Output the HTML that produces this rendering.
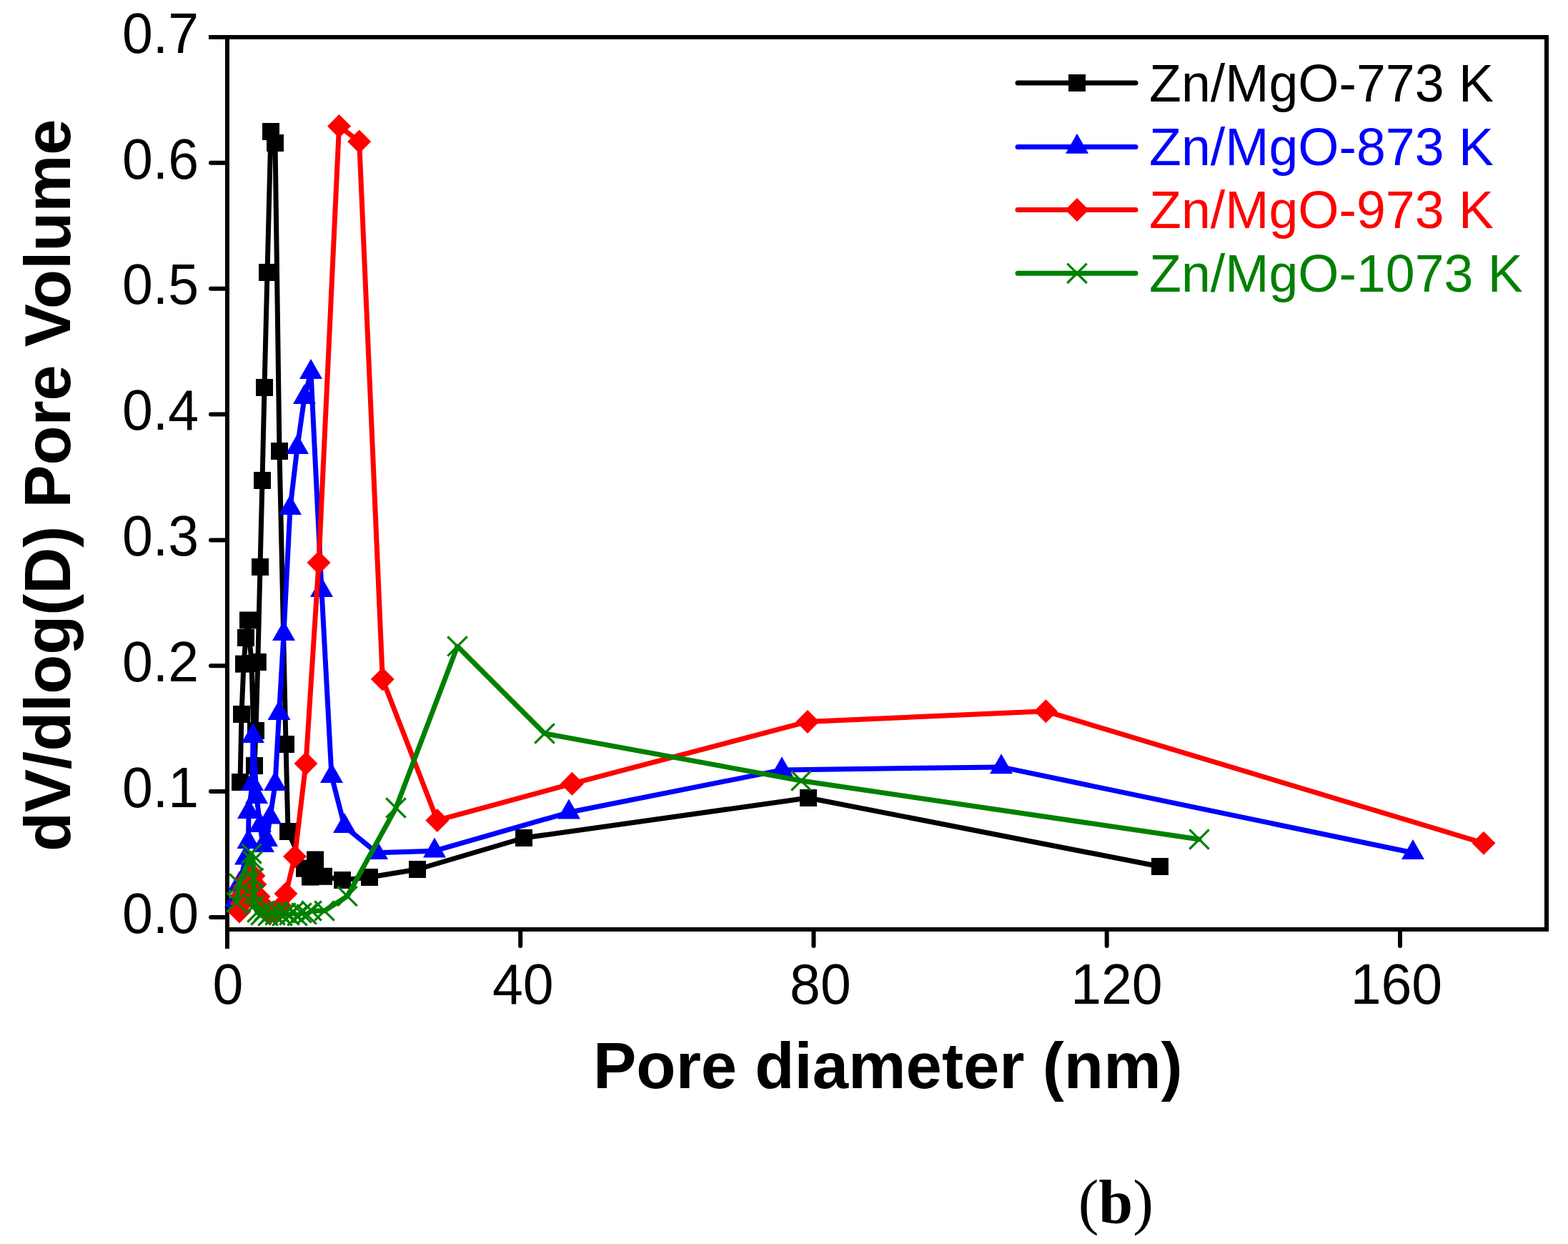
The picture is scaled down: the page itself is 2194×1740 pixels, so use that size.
<!DOCTYPE html>
<html><head><meta charset="utf-8"><title>Pore size distribution</title>
<style>html,body{margin:0;padding:0;background:#fff;}svg{display:block;}</style>
</head><body>
<svg width="2194" height="1740" viewBox="0 0 2194 1740">
<g stroke="#000" stroke-width="6" fill="none" stroke-linecap="square">
<line x1="295" y1="52" x2="2164" y2="52"/>
<line x1="2164" y1="52" x2="2164" y2="1300"/>
<line x1="318" y1="1300" x2="2164" y2="1300"/>
<line x1="318" y1="52" x2="318" y2="1324"/>
</g>
<g stroke="#000" stroke-width="6" stroke-linecap="round">
<line x1="295" y1="1283" x2="318" y2="1283"/>
<line x1="295" y1="1107.1" x2="318" y2="1107.1"/>
<line x1="295" y1="931.3" x2="318" y2="931.3"/>
<line x1="295" y1="755.4" x2="318" y2="755.4"/>
<line x1="295" y1="579.6" x2="318" y2="579.6"/>
<line x1="295" y1="403.7" x2="318" y2="403.7"/>
<line x1="295" y1="227.8" x2="318" y2="227.8"/>
<line x1="728.2" y1="1300" x2="728.2" y2="1323"/>
<line x1="1138.5" y1="1300" x2="1138.5" y2="1323"/>
<line x1="1548.7" y1="1300" x2="1548.7" y2="1323"/>
<line x1="1959" y1="1300" x2="1959" y2="1323"/>
</g>
<g font-family="'Liberation Sans', Arial, sans-serif" font-size="77" fill="#000">
<text transform="translate(278,1304.7) scale(1,1.038)" text-anchor="end">0.0</text>
<text transform="translate(278,1128.8) scale(1,1.038)" text-anchor="end">0.1</text>
<text transform="translate(278,953) scale(1,1.038)" text-anchor="end">0.2</text>
<text transform="translate(278,777.1) scale(1,1.038)" text-anchor="end">0.3</text>
<text transform="translate(278,601.3) scale(1,1.038)" text-anchor="end">0.4</text>
<text transform="translate(278,425.4) scale(1,1.038)" text-anchor="end">0.5</text>
<text transform="translate(278,249.5) scale(1,1.038)" text-anchor="end">0.6</text>
<text transform="translate(278,73.7) scale(1,1.038)" text-anchor="end">0.7</text>
<text transform="translate(319,1403.6) scale(1,1.038)" text-anchor="middle">0</text>
<text transform="translate(731.7,1403.6) scale(1,1.038)" text-anchor="middle">40</text>
<text transform="translate(1147.9,1403.6) scale(1,1.038)" text-anchor="middle">80</text>
<text transform="translate(1562.4,1403.6) scale(1,1.038)" text-anchor="middle">120</text>
<text transform="translate(1953.9,1403.6) scale(1,1.038)" text-anchor="middle">160</text>
</g>
<text x="830" y="1521.8" font-family="'Liberation Sans', Arial, sans-serif" font-weight="bold" font-size="90.5">Pore diameter (nm)</text>
<text transform="translate(98,1191) rotate(-90)" x="0" y="0" font-family="'Liberation Sans', Arial, sans-serif" font-weight="bold" font-size="90.1">dV/dlog(D) Pore Volume</text>
<text x="1508.7" y="1710" font-family="'Liberation Serif', 'Times New Roman', serif" font-weight="bold" font-size="86"><tspan font-weight="normal">(</tspan>b<tspan font-weight="normal">)</tspan></text>
<polyline points="336,1094 338,999 341,928.7 344,892 347,867.5 352,928 356,1071 358,1022 360.8,926 364,793 367,672 370,542 374,381 379,184 385,200 391,631 400,1041 403,1163 426,1214.7 434,1226.6 441,1202.5 453,1225.8 479,1231 517,1227 584,1216 733,1172 1131,1116 1623,1212" fill="none" stroke="#000" stroke-width="7" stroke-linejoin="round" stroke-linecap="round"/>
<rect x="324" y="1082" width="24" height="24" fill="#000"/>
<rect x="326" y="987" width="24" height="24" fill="#000"/>
<rect x="329" y="916.7" width="24" height="24" fill="#000"/>
<rect x="332" y="880" width="24" height="24" fill="#000"/>
<rect x="335" y="855.5" width="24" height="24" fill="#000"/>
<rect x="340" y="916" width="24" height="24" fill="#000"/>
<rect x="344" y="1059" width="24" height="24" fill="#000"/>
<rect x="346" y="1010" width="24" height="24" fill="#000"/>
<rect x="348.8" y="914" width="24" height="24" fill="#000"/>
<rect x="352" y="781" width="24" height="24" fill="#000"/>
<rect x="355" y="660" width="24" height="24" fill="#000"/>
<rect x="358" y="530" width="24" height="24" fill="#000"/>
<rect x="362" y="369" width="24" height="24" fill="#000"/>
<rect x="367" y="172" width="24" height="24" fill="#000"/>
<rect x="373" y="188" width="24" height="24" fill="#000"/>
<rect x="379" y="619" width="24" height="24" fill="#000"/>
<rect x="388" y="1029" width="24" height="24" fill="#000"/>
<rect x="391" y="1151" width="24" height="24" fill="#000"/>
<rect x="414" y="1202.7" width="24" height="24" fill="#000"/>
<rect x="422" y="1214.6" width="24" height="24" fill="#000"/>
<rect x="429" y="1190.5" width="24" height="24" fill="#000"/>
<rect x="441" y="1213.8" width="24" height="24" fill="#000"/>
<rect x="467" y="1219" width="24" height="24" fill="#000"/>
<rect x="505" y="1215" width="24" height="24" fill="#000"/>
<rect x="572" y="1204" width="24" height="24" fill="#000"/>
<rect x="721" y="1160" width="24" height="24" fill="#000"/>
<rect x="1119" y="1104" width="24" height="24" fill="#000"/>
<rect x="1611" y="1200" width="24" height="24" fill="#000"/>
<polyline points="330,1259.7 335,1236.7 344,1200.2 347.5,1177.7 348,1135.7 353,1096.7 354,1029.7 359,1114.7 364,1154.7 368,1182.7 373,1174.7 378,1143.3 385,1096.7 390.5,997.7 397,886.7 406,710.7 416,625.7 426,555.7 435,520.7 450,825.7 464,1085.7 482,1155.7 527,1192.7 608,1190.2 796,1136.3 1094,1076.9 1401,1072.9 1977,1192.7" fill="none" stroke="#00f" stroke-width="7" stroke-linejoin="round" stroke-linecap="round"/>
<polygon points="330,1241 346,1269 314,1269" fill="#00f"/>
<polygon points="335,1218 351,1246 319,1246" fill="#00f"/>
<polygon points="344,1181.5 360,1209.5 328,1209.5" fill="#00f"/>
<polygon points="347.5,1159 363.5,1187 331.5,1187" fill="#00f"/>
<polygon points="348,1117 364,1145 332,1145" fill="#00f"/>
<polygon points="353,1078 369,1106 337,1106" fill="#00f"/>
<polygon points="354,1011 370,1039 338,1039" fill="#00f"/>
<polygon points="359,1096 375,1124 343,1124" fill="#00f"/>
<polygon points="364,1136 380,1164 348,1164" fill="#00f"/>
<polygon points="368,1164 384,1192 352,1192" fill="#00f"/>
<polygon points="373,1156 389,1184 357,1184" fill="#00f"/>
<polygon points="378,1124.6 394,1152.6 362,1152.6" fill="#00f"/>
<polygon points="385,1078 401,1106 369,1106" fill="#00f"/>
<polygon points="390.5,979 406.5,1007 374.5,1007" fill="#00f"/>
<polygon points="397,868 413,896 381,896" fill="#00f"/>
<polygon points="406,692 422,720 390,720" fill="#00f"/>
<polygon points="416,607 432,635 400,635" fill="#00f"/>
<polygon points="426,537 442,565 410,565" fill="#00f"/>
<polygon points="435,502 451,530 419,530" fill="#00f"/>
<polygon points="450,807 466,835 434,835" fill="#00f"/>
<polygon points="464,1067 480,1095 448,1095" fill="#00f"/>
<polygon points="482,1137 498,1165 466,1165" fill="#00f"/>
<polygon points="527,1174 543,1202 511,1202" fill="#00f"/>
<polygon points="608,1171.5 624,1199.5 592,1199.5" fill="#00f"/>
<polygon points="796,1117.6 812,1145.6 780,1145.6" fill="#00f"/>
<polygon points="1094,1058.2 1110,1086.2 1078,1086.2" fill="#00f"/>
<polygon points="1401,1054.2 1417,1082.2 1385,1082.2" fill="#00f"/>
<polygon points="1977,1174 1993,1202 1961,1202" fill="#00f"/>
<polyline points="335,1275 338,1264 339,1252 342,1240 346,1230 351,1224 355,1225 357,1237 362,1254 370,1268 378,1277 386,1277 393,1268 400,1250 412.5,1198 428,1068 446,787 474.5,176.5 502.7,198 535.3,950 611.8,1147.4 800.5,1096.2 1130,1009.4 1463.4,994.8 2076,1179.3" fill="none" stroke="#f00" stroke-width="7" stroke-linejoin="round" stroke-linecap="round"/>
<polygon points="335,1258.5 351.5,1275 335,1291.5 318.5,1275" fill="#f00"/>
<polygon points="338,1247.5 354.5,1264 338,1280.5 321.5,1264" fill="#f00"/>
<polygon points="339,1235.5 355.5,1252 339,1268.5 322.5,1252" fill="#f00"/>
<polygon points="342,1223.5 358.5,1240 342,1256.5 325.5,1240" fill="#f00"/>
<polygon points="346,1213.5 362.5,1230 346,1246.5 329.5,1230" fill="#f00"/>
<polygon points="351,1207.5 367.5,1224 351,1240.5 334.5,1224" fill="#f00"/>
<polygon points="355,1208.5 371.5,1225 355,1241.5 338.5,1225" fill="#f00"/>
<polygon points="357,1220.5 373.5,1237 357,1253.5 340.5,1237" fill="#f00"/>
<polygon points="362,1237.5 378.5,1254 362,1270.5 345.5,1254" fill="#f00"/>
<polygon points="370,1251.5 386.5,1268 370,1284.5 353.5,1268" fill="#f00"/>
<polygon points="378,1260.5 394.5,1277 378,1293.5 361.5,1277" fill="#f00"/>
<polygon points="386,1260.5 402.5,1277 386,1293.5 369.5,1277" fill="#f00"/>
<polygon points="393,1251.5 409.5,1268 393,1284.5 376.5,1268" fill="#f00"/>
<polygon points="400,1233.5 416.5,1250 400,1266.5 383.5,1250" fill="#f00"/>
<polygon points="412.5,1181.5 429,1198 412.5,1214.5 396,1198" fill="#f00"/>
<polygon points="428,1051.5 444.5,1068 428,1084.5 411.5,1068" fill="#f00"/>
<polygon points="446,770.5 462.5,787 446,803.5 429.5,787" fill="#f00"/>
<polygon points="474.5,160 491,176.5 474.5,193 458,176.5" fill="#f00"/>
<polygon points="502.7,181.5 519.2,198 502.7,214.5 486.2,198" fill="#f00"/>
<polygon points="535.3,933.5 551.8,950 535.3,966.5 518.8,950" fill="#f00"/>
<polygon points="611.8,1130.9 628.3,1147.4 611.8,1163.9 595.3,1147.4" fill="#f00"/>
<polygon points="800.5,1079.7 817,1096.2 800.5,1112.7 784,1096.2" fill="#f00"/>
<polygon points="1130,992.9 1146.5,1009.4 1130,1025.9 1113.5,1009.4" fill="#f00"/>
<polygon points="1463.4,978.3 1479.9,994.8 1463.4,1011.3 1446.9,994.8" fill="#f00"/>
<polygon points="2076,1162.8 2092.5,1179.3 2076,1195.8 2059.5,1179.3" fill="#f00"/>
<polyline points="331,1262 335,1236 352,1194 354,1204 354.5,1228 355,1250 356,1266 360,1276 365,1280 370,1274 375,1281 380,1276 385,1280 390,1275 395,1281 400,1277 405,1280 410,1276 416,1281 422,1277 429,1279 436,1274 454,1274 486,1253.5 554,1130 640,904 762,1026 1121,1092 1678,1174" fill="none" stroke="#008000" stroke-width="7" stroke-linejoin="round" stroke-linecap="round"/>
<path d="M317.3 1248.3L344.7 1275.7M317.3 1275.7L344.7 1248.3" stroke="#008000" stroke-width="3.2" fill="none"/>
<path d="M321.3 1222.3L348.7 1249.7M321.3 1249.7L348.7 1222.3" stroke="#008000" stroke-width="3.2" fill="none"/>
<path d="M338.3 1180.3L365.7 1207.7M338.3 1207.7L365.7 1180.3" stroke="#008000" stroke-width="3.2" fill="none"/>
<path d="M340.3 1190.3L367.7 1217.7M340.3 1217.7L367.7 1190.3" stroke="#008000" stroke-width="3.2" fill="none"/>
<path d="M340.8 1214.3L368.2 1241.7M340.8 1241.7L368.2 1214.3" stroke="#008000" stroke-width="3.2" fill="none"/>
<path d="M341.3 1236.3L368.7 1263.7M341.3 1263.7L368.7 1236.3" stroke="#008000" stroke-width="3.2" fill="none"/>
<path d="M342.3 1252.3L369.7 1279.7M342.3 1279.7L369.7 1252.3" stroke="#008000" stroke-width="3.2" fill="none"/>
<path d="M346.3 1262.3L373.7 1289.7M346.3 1289.7L373.7 1262.3" stroke="#008000" stroke-width="3.2" fill="none"/>
<path d="M351.3 1266.3L378.7 1293.7M351.3 1293.7L378.7 1266.3" stroke="#008000" stroke-width="3.2" fill="none"/>
<path d="M356.3 1260.3L383.7 1287.7M356.3 1287.7L383.7 1260.3" stroke="#008000" stroke-width="3.2" fill="none"/>
<path d="M361.3 1267.3L388.7 1294.7M361.3 1294.7L388.7 1267.3" stroke="#008000" stroke-width="3.2" fill="none"/>
<path d="M366.3 1262.3L393.7 1289.7M366.3 1289.7L393.7 1262.3" stroke="#008000" stroke-width="3.2" fill="none"/>
<path d="M371.3 1266.3L398.7 1293.7M371.3 1293.7L398.7 1266.3" stroke="#008000" stroke-width="3.2" fill="none"/>
<path d="M376.3 1261.3L403.7 1288.7M376.3 1288.7L403.7 1261.3" stroke="#008000" stroke-width="3.2" fill="none"/>
<path d="M381.3 1267.3L408.7 1294.7M381.3 1294.7L408.7 1267.3" stroke="#008000" stroke-width="3.2" fill="none"/>
<path d="M386.3 1263.3L413.7 1290.7M386.3 1290.7L413.7 1263.3" stroke="#008000" stroke-width="3.2" fill="none"/>
<path d="M391.3 1266.3L418.7 1293.7M391.3 1293.7L418.7 1266.3" stroke="#008000" stroke-width="3.2" fill="none"/>
<path d="M396.3 1262.3L423.7 1289.7M396.3 1289.7L423.7 1262.3" stroke="#008000" stroke-width="3.2" fill="none"/>
<path d="M402.3 1267.3L429.7 1294.7M402.3 1294.7L429.7 1267.3" stroke="#008000" stroke-width="3.2" fill="none"/>
<path d="M408.3 1263.3L435.7 1290.7M408.3 1290.7L435.7 1263.3" stroke="#008000" stroke-width="3.2" fill="none"/>
<path d="M415.3 1265.3L442.7 1292.7M415.3 1292.7L442.7 1265.3" stroke="#008000" stroke-width="3.2" fill="none"/>
<path d="M422.3 1260.3L449.7 1287.7M422.3 1287.7L449.7 1260.3" stroke="#008000" stroke-width="3.2" fill="none"/>
<path d="M440.3 1260.3L467.7 1287.7M440.3 1287.7L467.7 1260.3" stroke="#008000" stroke-width="3.2" fill="none"/>
<path d="M472.3 1239.8L499.7 1267.2M472.3 1267.2L499.7 1239.8" stroke="#008000" stroke-width="3.2" fill="none"/>
<path d="M540.3 1116.3L567.7 1143.7M540.3 1143.7L567.7 1116.3" stroke="#008000" stroke-width="3.2" fill="none"/>
<path d="M626.3 890.3L653.7 917.7M626.3 917.7L653.7 890.3" stroke="#008000" stroke-width="3.2" fill="none"/>
<path d="M748.3 1012.3L775.7 1039.7M748.3 1039.7L775.7 1012.3" stroke="#008000" stroke-width="3.2" fill="none"/>
<path d="M1107.3 1078.3L1134.7 1105.7M1107.3 1105.7L1134.7 1078.3" stroke="#008000" stroke-width="3.2" fill="none"/>
<path d="M1664.3 1160.3L1691.7 1187.7M1664.3 1187.7L1691.7 1160.3" stroke="#008000" stroke-width="3.2" fill="none"/>
<line x1="1424" y1="116" x2="1589" y2="116" stroke="#000" stroke-width="7" stroke-linecap="round"/>
<rect x="1495" y="104" width="24" height="24" fill="#000"/>
<text x="1608" y="142" fill="#000" font-family="'Liberation Sans', Arial, sans-serif" font-size="73.5">Zn/MgO-773 K</text>
<line x1="1424" y1="205.5" x2="1589" y2="205.5" stroke="#00f" stroke-width="7" stroke-linecap="round"/>
<polygon points="1507,186.8 1523,214.8 1491,214.8" fill="#00f"/>
<text x="1608" y="231.3" fill="#00f" font-family="'Liberation Sans', Arial, sans-serif" font-size="73.5">Zn/MgO-873 K</text>
<line x1="1424" y1="293.5" x2="1589" y2="293.5" stroke="#f00" stroke-width="7" stroke-linecap="round"/>
<polygon points="1507,277 1523.5,293.5 1507,310 1490.5,293.5" fill="#f00"/>
<text x="1608" y="319.3" fill="#f00" font-family="'Liberation Sans', Arial, sans-serif" font-size="73.5">Zn/MgO-973 K</text>
<line x1="1424" y1="382.3" x2="1589" y2="382.3" stroke="#008000" stroke-width="7" stroke-linecap="round"/>
<path d="M1493.3 368.6L1520.7 396M1493.3 396L1520.7 368.6" stroke="#008000" stroke-width="3.2" fill="none"/>
<text x="1608" y="408" fill="#008000" font-family="'Liberation Sans', Arial, sans-serif" font-size="73.5">Zn/MgO-1073 K</text>
</svg>
</body></html>
